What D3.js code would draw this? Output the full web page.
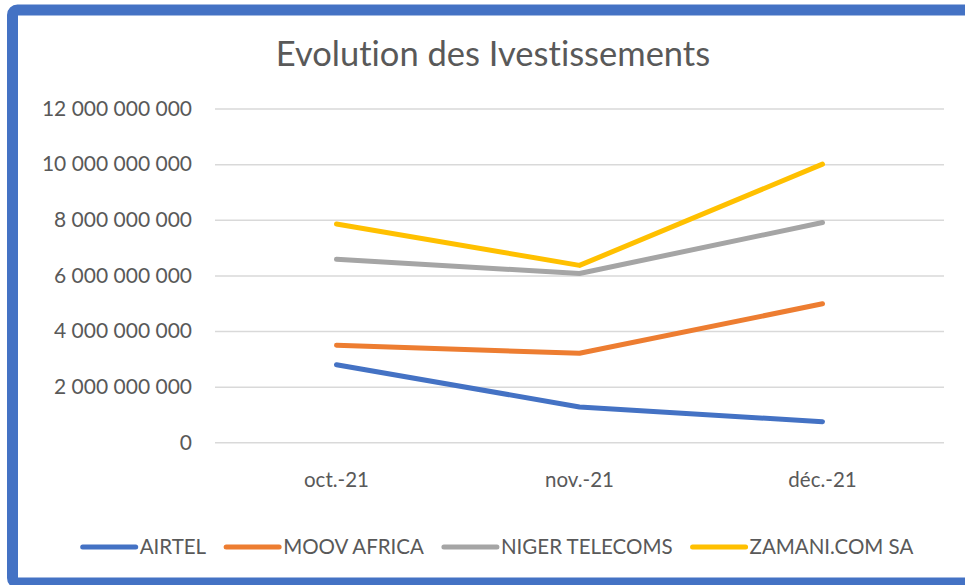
<!DOCTYPE html>
<html>
<head>
<meta charset="utf-8">
<script src="https://cdn.jsdelivr.net/npm/d3@7"></script>
<style>
  body { margin: 0; background: #fff; }
  svg text { font-family: Lato, "Open Sans", sans-serif; fill: #595959; font-variant-ligatures: none; }
</style>
</head>
<body>
<svg width="965" height="585"></svg>
<script>
var months = ["oct.-21", "nov.-21", "déc.-21"];
var seriesNames = ["AIRTEL", "MOOV AFRICA", "NIGER TELECOMS", "ZAMANI.COM SA"];
var airtel = [2.79e9, 1.27e9, 0.74e9];
var moov = [3.49e9, 3.2e9, 4.98e9];
var niger = [6.58e9, 6.07e9, 7.9e9];
var zamani = [7.85e9, 6.36e9, 10.0e9];
var yTicks = [0, 2e9, 4e9, 6e9, 8e9, 10e9, 12e9];
var colors = ["#4472C4", "#ED7D31", "#A5A5A5", "#FFC000"];

var series = [airtel, moov, niger, zamani].map(function(v, i) {
  return { name: seriesNames[i], values: v, color: colors[i] };
});

var svg = d3.select("svg"),
    width = +svg.attr("width"),
    height = +svg.attr("height");

// blue frame, right edge falls off the picture
svg.append("rect")
  .attr("x", 12.5).attr("y", 10)
  .attr("width", 1000).attr("height", 573)
  .attr("rx", 5)
  .attr("fill", "none")
  .attr("stroke", "#4472C4")
  .attr("stroke-width", 11);

var plotLeft = 215, plotRight = 944;

var x = d3.scaleBand()
  .domain(months)
  .range([plotLeft, plotRight]);

var y = d3.scaleLinear()
  .domain([0, 12e9])
  .range([442.3, 108.5]);

var fmt = function(d) {
  return d3.format(",")(d).replace(/,/g, " ");
};

// gridlines + y labels
var yAxis = svg.append("g")
  .attr("transform", "translate(" + plotLeft + ",0)")
  .call(d3.axisLeft(y).tickValues(yTicks).tickFormat(fmt)
    .tickSize(-(plotRight - plotLeft)).tickPadding(23));
yAxis.select(".domain").remove();
yAxis.selectAll(".tick line").attr("stroke", "#D9D9D9").attr("stroke-width", 1.5);
yAxis.selectAll(".tick text").style("font-size", "21px").attr("fill", "#595959");

// x labels
var xAxis = svg.append("g")
  .attr("transform", "translate(0,442)")
  .call(d3.axisBottom(x).tickSize(0).tickPadding(30));
xAxis.select(".domain").remove();
xAxis.selectAll(".tick text").style("font-size", "20.5px").attr("fill", "#595959");

var line = d3.line()
  .x(function(d, i) { return x(months[i]) + x.bandwidth() / 2; })
  .y(function(d) { return y(d); });

svg.append("g").selectAll("path")
  .data(series)
  .enter().append("path")
  .attr("d", function(d) { return line(d.values); })
  .attr("fill", "none")
  .attr("stroke", function(d) { return d.color; })
  .attr("stroke-width", 5)
  .attr("stroke-linecap", "round")
  .attr("stroke-linejoin", "round");

// title
svg.append("text")
  .attr("x", 493).attr("y", 66)
  .attr("text-anchor", "middle")
  .style("font-size", "34.5px")
  .text("Evolution des Ivestissements");

// legend
var legend = svg.append("g");
var lx = 0;
series.forEach(function(s) {
  var g = legend.append("g").attr("transform", "translate(" + lx + ",0)");
  g.append("line")
    .attr("x1", 0).attr("x2", 53)
    .attr("y1", 0).attr("y2", 0)
    .attr("stroke", s.color).attr("stroke-width", 5)
    .attr("stroke-linecap", "round");
  var t = g.append("text")
    .attr("x", 57).attr("y", 7)
    .style("font-size", "20.5px")
    .text(s.name);
  lx += 57 + t.node().getComputedTextLength() + 20;
});
var legendW = lx - 20;
legend.attr("transform", "translate(" + (498 - legendW / 2) + ",547)");
</script>
</body>
</html>
